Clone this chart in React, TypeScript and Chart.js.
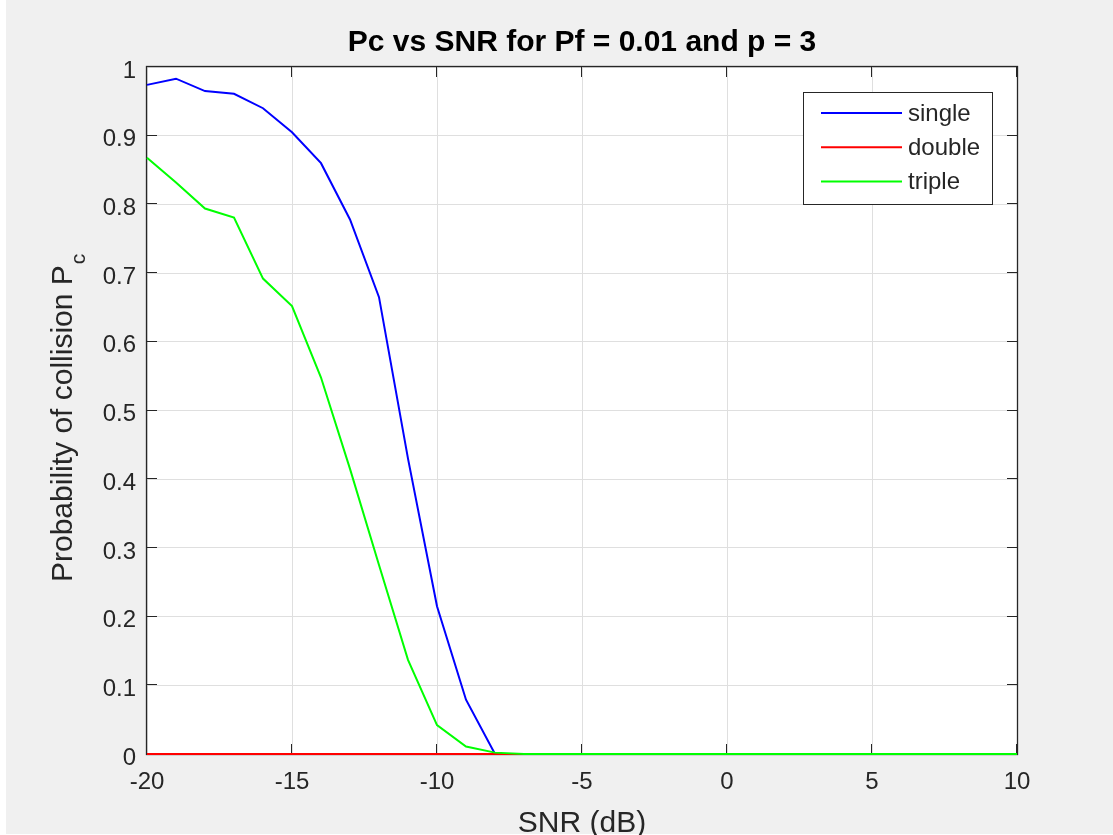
import React, { useEffect, useRef } from "react";
import { Chart, registerables } from "chart.js";

Chart.register(...registerables);

// ---- data ----
const snr = [-20, -19, -18, -17, -16, -15, -14, -13, -12, -11, -10, -9, -8, -7, -6, -5, -4, -3, -2, -1, 0, 1, 2, 3, 4, 5, 6, 7, 8, 9, 10];
const singleVals = [0.974, 0.983, 0.965, 0.961, 0.94, 0.905, 0.86, 0.778, 0.665, 0.43, 0.215, 0.079, 0.0, 0, 0, 0, 0, 0, 0, 0, 0, 0, 0, 0, 0, 0, 0, 0, 0, 0, 0];
const doubleVals = [0, 0, 0, 0, 0, 0, 0, 0, 0, 0, 0, 0, 0, 0, 0, 0, 0, 0, 0, 0, 0, 0, 0, 0, 0, 0, 0, 0, 0, 0, 0];
const tripleVals = [0.868, 0.832, 0.794, 0.781, 0.692, 0.652, 0.548, 0.415, 0.275, 0.137, 0.042, 0.011, 0.002, 0, 0, 0, 0, 0, 0, 0, 0, 0, 0, 0, 0, 0, 0, 0, 0, 0, 0];
const seriesNames = ["single", "double", "triple"];
const seriesColors = ["#0000ff", "#ff0000", "#00ff00"];
const xTickLabels = ["-20", "-15", "-10", "-5", "0", "5", "10"];
const yTickLabels = ["0", "0.1", "0.2", "0.3", "0.4", "0.5", "0.6", "0.7", "0.8", "0.9", "1"];
const titleText = "Pc vs SNR for Pf = 0.01 and p = 3";
const xLabelText = "SNR (dB)";
const yLabelMain = "Probability of collision P";
const yLabelSub = "c";

const FONT = '"Liberation Sans", Arial, Helvetica, sans-serif';
const TICK_SIZE = 24;
const LABEL_SIZE = 30;
const SUB_SIZE = 21;
const TITLE_SIZE = 30;
const TEXT_COLOR = "#262626";
const AXIS_COLOR = "#262626";
const GRID_COLOR = "#dfdfdf";
const FIG_BG = "#f0f0f0";

const W = 1113;
const H = 835;

const decorPlugin = {
  id: "matlabDecor",
  beforeDraw(chart: any) {
    const { ctx, chartArea } = chart;
    ctx.save();
    ctx.fillStyle = "#ffffff";
    ctx.fillRect(0, 0, W, H);
    ctx.fillStyle = FIG_BG;
    ctx.fillRect(6, 0, W - 6, H - 1);
    ctx.fillStyle = "#ffffff";
    ctx.fillRect(chartArea.left, chartArea.top, chartArea.right - chartArea.left, chartArea.bottom - chartArea.top);
    ctx.restore();
  },
  beforeDatasetsDraw(chart: any) {
    const { ctx, chartArea, scales } = chart;
    const { left, right, top, bottom } = chartArea;
    ctx.save();
    ctx.strokeStyle = AXIS_COLOR;
    ctx.lineWidth = 1.3;
    ctx.strokeRect(left - 0.5, top - 0.5, right - left + 1, bottom - top + 1);
    const tl = 10;
    ctx.lineWidth = 1;
    ctx.beginPath();
    scales.x.ticks.forEach((t: any) => {
      const px = Math.round(scales.x.getPixelForValue(t.value)) - 0.5;
      ctx.moveTo(px, bottom);
      ctx.lineTo(px, bottom - tl);
      ctx.moveTo(px, top);
      ctx.lineTo(px, top + tl);
    });
    scales.y.ticks.forEach((t: any) => {
      const py = Math.round(scales.y.getPixelForValue(t.value)) - 0.5;
      ctx.moveTo(left, py);
      ctx.lineTo(left + tl, py);
      ctx.moveTo(right, py);
      ctx.lineTo(right - tl, py);
    });
    ctx.stroke();
    ctx.restore();
  },
  afterDraw(chart: any) {
    const { ctx, chartArea } = chart;
    const { left, right, top, bottom } = chartArea;
    const cx = (left + right) / 2;
    ctx.save();
    // title
    ctx.fillStyle = "#000000";
    ctx.font = `bold ${TITLE_SIZE}px ${FONT}`;
    ctx.textAlign = "center";
    ctx.textBaseline = "alphabetic";
    ctx.fillText(titleText, cx, top - 16);
    // x label
    ctx.fillStyle = TEXT_COLOR;
    ctx.font = `${LABEL_SIZE}px ${FONT}`;
    ctx.fillText(xLabelText, cx, bottom + 78);
    // y label (with subscript)
    ctx.font = `${LABEL_SIZE}px ${FONT}`;
    const wMain = ctx.measureText(yLabelMain).width;
    ctx.translate(72, bottom - 172);
    ctx.rotate(-Math.PI / 2);
    ctx.textAlign = "left";
    ctx.fillText(yLabelMain, 0, 0);
    ctx.font = `${SUB_SIZE}px ${FONT}`;
    ctx.fillText(yLabelSub, wMain + 1, 13);
    ctx.restore();

    // legend
    ctx.save();
    const bx = right - 214;
    const by = top + 25;
    const bw = 189;
    const bh = 112;
    ctx.fillStyle = "#ffffff";
    ctx.fillRect(bx, by, bw, bh);
    ctx.strokeStyle = AXIS_COLOR;
    ctx.lineWidth = 1;
    ctx.strokeRect(bx + 0.5, by + 0.5, bw, bh);
    ctx.font = `${TICK_SIZE}px ${FONT}`;
    ctx.textBaseline = "middle";
    ctx.textAlign = "left";
    chart.data.datasets.forEach((ds: any, i: number) => {
      const ly = by + 21 + i * 34.3;
      ctx.strokeStyle = ds.borderColor;
      ctx.lineWidth = 2;
      ctx.beginPath();
      ctx.moveTo(bx + 18, ly);
      ctx.lineTo(bx + 99, ly);
      ctx.stroke();
      ctx.fillStyle = TEXT_COLOR;
      ctx.fillText(ds.label, bx + 105, ly + 1);
    });
    ctx.restore();
  },
};

export default function App() {
  const ref = useRef<HTMLCanvasElement | null>(null);
  useEffect(() => {
    document.body.style.margin = "0";
    const canvas = ref.current;
    if (!canvas) return;
    const values = [singleVals, doubleVals, tripleVals];
    const datasets = values.map((vals, i) => ({
      label: seriesNames[i],
      data: snr.map((x, j) => ({ x, y: vals[j] })),
      borderColor: seriesColors[i],
      backgroundColor: seriesColors[i],
      borderWidth: 2,
      pointRadius: 0,
      tension: 0,
      fill: false,
      order: 2 - i,
      clip: { left: 1, top: 1, right: 1, bottom: 2 },
    }));
    const chart = new Chart(canvas, {
      type: "line",
      data: { datasets },
      options: {
        responsive: false,
        maintainAspectRatio: false,
        animation: false,
        devicePixelRatio: 1,
        layout: { padding: { left: 0, right: 96, top: 67, bottom: 0 } },
        plugins: {
          legend: { display: false },
          title: { display: false },
          tooltip: { enabled: false },
        },
        scales: {
          x: {
            type: "linear",
            min: -20,
            max: 10,
            afterBuildTicks: (s: any) => {
              s.ticks = xTickLabels.map((l) => ({ value: Number(l) }));
            },
            afterFit: (s: any) => {
              s.height = 81;
            },
            ticks: {
              callback: (_v: any, i: number) => xTickLabels[i],
              padding: 14,
              maxRotation: 0,
              autoSkip: false,
              color: TEXT_COLOR,
              font: { family: FONT, size: TICK_SIZE },
            },
            grid: { color: GRID_COLOR, lineWidth: 1, drawTicks: false, tickLength: 0 },
            border: { display: false },
          },
          y: {
            type: "linear",
            min: 0,
            max: 1,
            afterBuildTicks: (s: any) => {
              s.ticks = yTickLabels.map((l) => ({ value: Number(l) }));
            },
            afterFit: (s: any) => {
              s.width = 147;
            },
            ticks: {
              callback: (_v: any, i: number) => yTickLabels[i],
              padding: 11,
              labelOffset: 4,
              autoSkip: false,
              color: TEXT_COLOR,
              font: { family: FONT, size: TICK_SIZE },
            },
            grid: { color: GRID_COLOR, lineWidth: 1, drawTicks: false, tickLength: 0 },
            border: { display: false },
          },
        },
      },
      plugins: [decorPlugin],
    });
    return () => chart.destroy();
  }, []);
  return (
    <div style={{ width: W, height: H }}>
      <canvas ref={ref} width={W} height={H} style={{ display: "block" }} />
    </div>
  );
}
